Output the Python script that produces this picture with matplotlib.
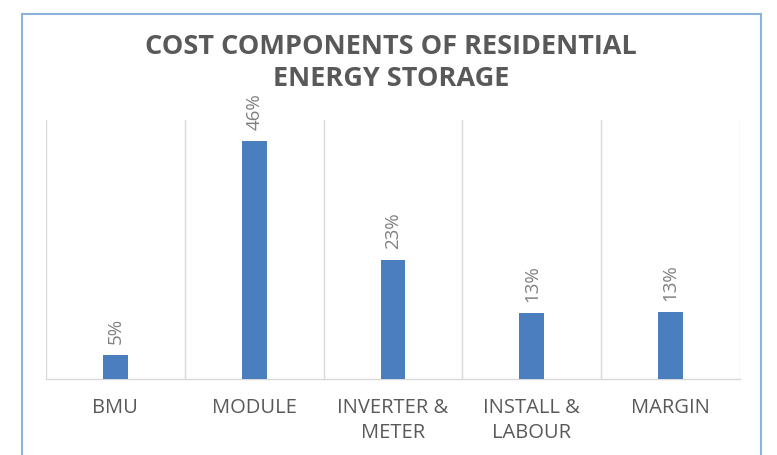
import matplotlib
matplotlib.use("Agg")
import matplotlib.pyplot as plt
import numpy as np
from matplotlib.patches import Rectangle

categories = ["BMU", "MODULE", "INVERTER &\nMETER", "INSTALL &\nLABOUR", "MARGIN"]
values = [4.6, 46.0, 23.0, 12.7, 12.9]
labels = ["5%", "46%", "23%", "13%", "13%"]
title = "COST COMPONENTS OF RESIDENTIAL\nENERGY STORAGE"

plt.rcParams['font.family'] = ['Open Sans', 'DejaVu Sans']

fig = plt.figure(figsize=(7.77, 4.55), dpi=100)
fig.patch.set_facecolor('white')

# outer border
fig.patches.append(Rectangle((22/777, -0.05), (761-22)/777, (455-14)/455 + 0.05,
                             transform=fig.transFigure, fill=False,
                             edgecolor='#8db3da', linewidth=1.5))

ax = fig.add_axes([46/777, (455-379)/455, (740-46)/777, (379-120)/455])
x = np.arange(len(categories))
ax.bar(x, values, width=0.18, color='#4a7ebf', zorder=3)
for xi, v, lab in zip(x, values, labels):
    ax.annotate(lab, (xi, v), xytext=(0, 8), textcoords='offset points',
                rotation=90, ha='center', va='bottom', fontsize=13.5, color='#7f7f7f')

ax.set_xlim(-0.5, len(categories) - 0.5)
ax.set_ylim(0, 50)
ax.set_xticks(x)
ax.set_xticklabels(categories, fontsize=14.5, color='#595959', linespacing=1.3)
ax.set_xticks(np.arange(-0.5, len(categories)), minor=True)
ax.tick_params(axis='x', which='both', length=0, pad=14)
ax.grid(True, which='minor', axis='x', color='#d9d9d9', linewidth=1, zorder=0)
ax.set_yticks([])
for s in ['top', 'right', 'left']:
    ax.spines[s].set_visible(False)
ax.spines['bottom'].set_color('#d9d9d9')
ax.spines['bottom'].set_linewidth(1)

fig.text(391/777, 1 - 63/455, title, ha='center', va='center', fontsize=19.5,
         fontweight='bold', color='#595959', linespacing=1.25)

fig.savefig('out.png', dpi=100, facecolor='white')
